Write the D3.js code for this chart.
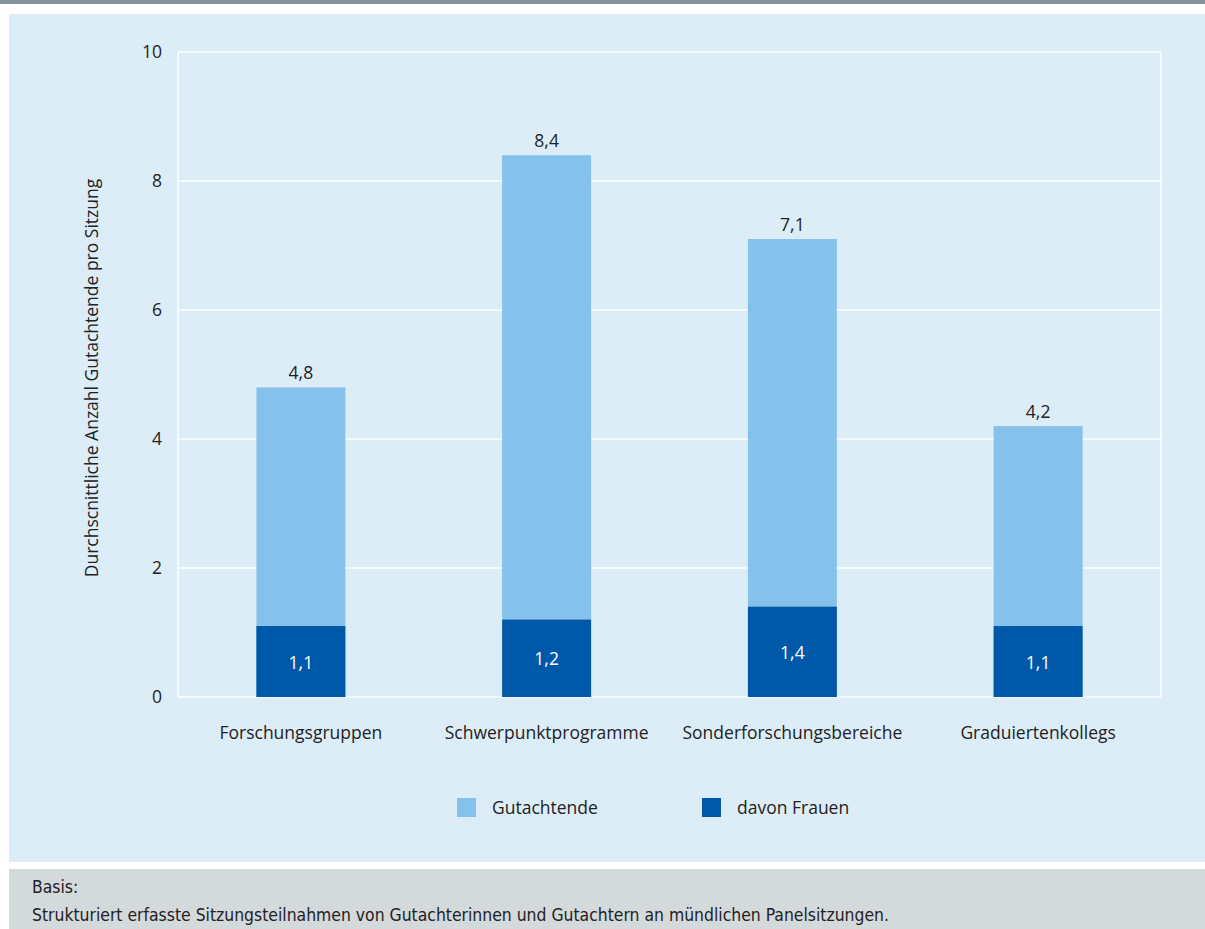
<!DOCTYPE html>
<html>
<head>
  <meta charset="utf-8">
  <title>Gutachtende pro Sitzung</title>
  <script src="https://d3js.org/d3.v7.min.js"></script>
  <style>
    html, body { margin: 0; height: 100%; overflow: hidden; background: #fff; }
    #chart { width: 1205px; height: 929px; }
  </style>
</head>
<body>
  <div id="chart"></div>
  <script>
    const categories = ['Forschungsgruppen', 'Schwerpunktprogramme', 'Sonderforschungsbereiche', 'Graduiertenkollegs'];
    const totalValues = [4.8, 8.4, 7.1, 4.2];
    const womenValues = [1.1, 1.2, 1.4, 1.1];
    const yTicks = [0, 2, 4, 6, 8, 10];
    const seriesNames = ['Gutachtende', 'davon Frauen'];
    const seriesColors = ['#85c1ea', '#0059a8'];

    const font = '"Open Sans", "Noto Sans", sans-serif';
    const fs = 17.5;
    const fmt = v => String(v).replace('.', ',');

    const svg = d3.select('#chart')
      .append('svg')
      .attr('width', 1205)
      .attr('height', 929);

    // frame
    svg.append('rect').attr('x', 0).attr('y', 0).attr('width', 1205).attr('height', 4).attr('fill', '#84939c');
    svg.append('rect').attr('x', 9).attr('y', 14).attr('width', 1196).attr('height', 848).attr('fill', '#ddedf7');
    svg.append('rect').attr('x', 9).attr('y', 869).attr('width', 1196).attr('height', 60).attr('fill', '#d4d9dc');

    const x = d3.scaleBand()
      .domain(categories)
      .range([178, 1161])
      .paddingInner(0.638)
      .paddingOuter(0.319);

    const y = d3.scaleLinear()
      .domain([0, 10])
      .range([697, 52]);

    // grid
    const g = svg.append('g');
    g.selectAll('line.grid')
      .data(yTicks)
      .enter().append('line')
      .attr('x1', 178).attr('x2', 1161)
      .attr('y1', d => y(d)).attr('y2', d => y(d))
      .attr('stroke', '#f4f9fd').attr('stroke-width', 2);
    [178, 1161].forEach(xx => {
      g.append('line')
        .attr('x1', xx).attr('x2', xx)
        .attr('y1', y(10)).attr('y2', y(0))
        .attr('stroke', '#f4f9fd').attr('stroke-width', 2);
    });

    // y axis labels
    const yAxis = d3.axisLeft(y).tickValues(yTicks).tickSize(0).tickPadding(0).tickFormat(d3.format('d'));
    svg.append('g')
      .attr('transform', 'translate(162,0)')
      .call(yAxis)
      .call(s => s.select('.domain').remove())
      .selectAll('text')
      .attr('font-family', font)
      .attr('font-size', fs)
      .attr('fill', '#222');

    // x axis labels
    const xAxis = d3.axisBottom(x).tickSize(0).tickPadding(0);
    svg.append('g')
      .attr('transform', 'translate(0,727)')
      .call(xAxis)
      .call(s => s.select('.domain').remove())
      .selectAll('text')
      .attr('font-family', font)
      .attr('font-size', fs)
      .attr('fill', '#222');

    // y title
    svg.append('text')
      .attr('transform', 'translate(98,378) rotate(-90)')
      .attr('text-anchor', 'middle')
      .attr('font-family', font)
      .attr('font-size', fs)
      .attr('fill', '#222')
      .text('Durchscnittliche Anzahl Gutachtende pro Sitzung');

    // bars
    g.selectAll('rect.total')
      .data(categories)
      .enter().append('rect')
      .attr('x', d => x(d))
      .attr('width', x.bandwidth())
      .attr('y', (d, i) => y(totalValues[i]))
      .attr('height', (d, i) => y(0) - y(totalValues[i]))
      .attr('fill', seriesColors[0]);

    g.selectAll('rect.women')
      .data(categories)
      .enter().append('rect')
      .attr('x', d => x(d))
      .attr('width', x.bandwidth())
      .attr('y', (d, i) => y(womenValues[i]))
      .attr('height', (d, i) => y(0) - y(womenValues[i]))
      .attr('fill', seriesColors[1]);

    // value labels
    svg.selectAll('text.total')
      .data(categories)
      .enter().append('text')
      .attr('x', d => x(d) + x.bandwidth() / 2)
      .attr('y', (d, i) => y(totalValues[i]) - 8)
      .attr('text-anchor', 'middle')
      .attr('font-family', font)
      .attr('font-size', fs)
      .attr('fill', '#222')
      .text((d, i) => fmt(totalValues[i]));

    svg.selectAll('text.women')
      .data(categories)
      .enter().append('text')
      .attr('x', d => x(d) + x.bandwidth() / 2)
      .attr('y', (d, i) => (y(womenValues[i]) + y(0)) / 2 + 7)
      .attr('text-anchor', 'middle')
      .attr('font-family', font)
      .attr('font-size', fs)
      .attr('fill', '#fff')
      .text((d, i) => fmt(womenValues[i]));

    // legend
    const legendX = [457, 702];
    const legend = svg.selectAll('g.legend')
      .data(seriesNames)
      .enter().append('g')
      .attr('transform', (d, i) => `translate(${legendX[i]},798)`);
    legend.append('rect')
      .attr('width', 19).attr('height', 19)
      .attr('fill', (d, i) => seriesColors[i]);
    legend.append('text')
      .attr('x', 35).attr('y', 16)
      .attr('font-family', font)
      .attr('font-size', fs)
      .attr('fill', '#222')
      .text(d => d);

    // footer
    const footFont = '"Liberation Sans Narrow", "DejaVu Sans Condensed", sans-serif';
    svg.append('text')
      .attr('x', 32).attr('y', 893)
      .attr('font-family', footFont)
      .attr('font-size', 17.4)
      .attr('fill', '#222')
      .text('Basis:');
    svg.append('text')
      .attr('x', 32).attr('y', 921)
      .attr('font-family', footFont)
      .attr('font-size', 17.4)
      .attr('fill', '#222')
      .text('Strukturiert erfasste Sitzungsteilnahmen von Gutachterinnen und Gutachtern an mündlichen Panelsitzungen.');
  </script>
</body>
</html>
